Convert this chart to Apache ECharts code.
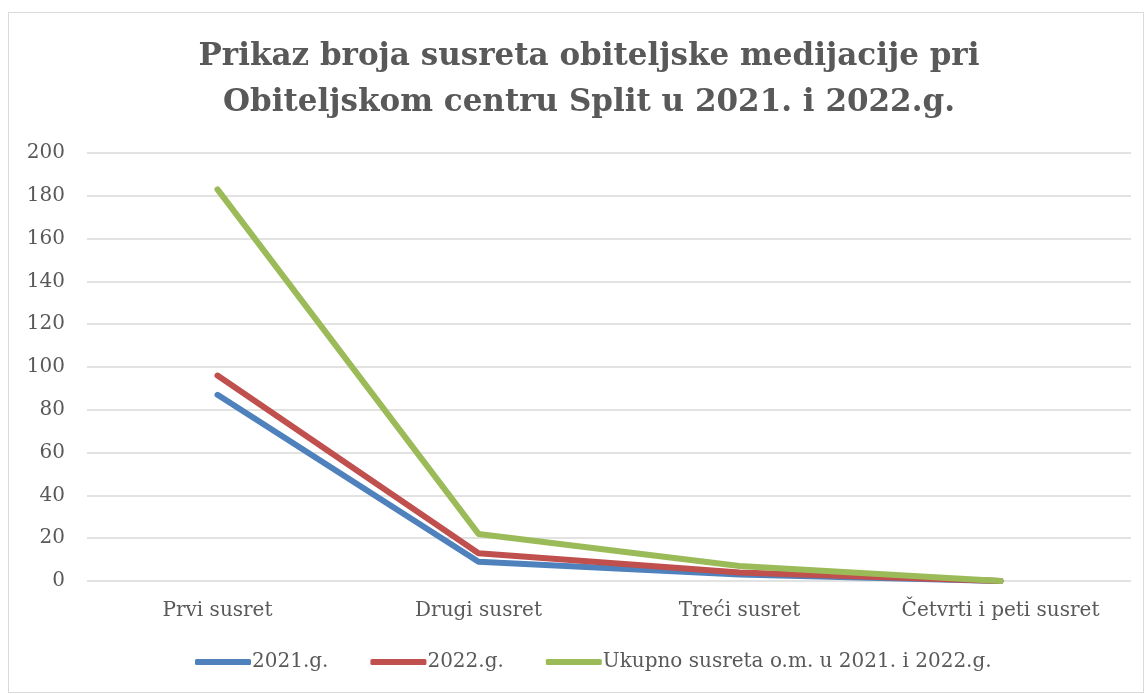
<!DOCTYPE html>
<html>
<head>
    <meta charset="UTF-8">
    <title>Prikaz broja susreta</title>
    <style>
        html, body { margin: 0; padding: 0; background: #fff; }
        #box {
            position: absolute;
            left: 8px; top: 12px;
            width: 1136px; height: 681px;
            border: 1px solid #d9d9d9;
            box-sizing: border-box;
        }
        #chart { width: 1145px; height: 694px; position: absolute; left: 0; top: 0; }
    </style>
    <script src="https://cdn.jsdelivr.net/npm/echarts@6/dist/echarts.min.js"></script>
</head>
<body>
    <div id="box"></div>
    <div id="chart"></div>
    <script>
        // kategorije i vrijednosti
        var categories = ['Prvi susret', 'Drugi susret', 'Treći susret', 'Četvrti i peti susret'];
        var god2021 = [87, 9, 3, 0];
        var god2022 = [96, 13, 4, 0];
        var ukupno = [183, 22, 7, 0];

        var font = '"DejaVu Serif", "Liberation Serif", serif';
        var chart = echarts.init(document.getElementById('chart'));

        function line(name, data, color) {
            return {
                name: name,
                type: 'line',
                data: data,
                symbol: 'none',
                lineStyle: { width: 6, color: color, cap: 'round', join: 'round' },
                itemStyle: { color: color }
            };
        }

        chart.setOption({
            animation: false,
            title: {
                text: 'Prikaz broja susreta obiteljske medijacije pri\nObiteljskom centru Split u 2021. i 2022.g.',
                left: 584,
                top: 29,
                textAlign: 'center',
                textStyle: {
                    fontFamily: font,
                    fontWeight: 'bold',
                    fontSize: 31,
                    lineHeight: 46,
                    color: '#595959'
                }
            },
            legend: {
                bottom: 17,
                left: 190,
                itemWidth: 56,
                itemHeight: 6,
                itemGap: 42,
                icon: 'roundRect',
                textStyle: { fontFamily: font, fontSize: 20, color: '#595959', padding: [0, 0, 0, -4] },
                data: ['2021.g.', '2022.g.', 'Ukupno susreta o.m. u 2021. i 2022.g.']
            },
            grid: { left: 87, right: 14, top: 153, bottom: 113 },
            xAxis: {
                type: 'category',
                data: categories,
                boundaryGap: true,
                axisLine: { show: false },
                axisTick: { show: false },
                axisLabel: { fontFamily: font, fontSize: 20, color: '#595959', margin: 20 }
            },
            yAxis: {
                type: 'value',
                min: 0,
                max: 200,
                interval: 20,
                axisLine: { show: false },
                axisTick: { show: false },
                axisLabel: { fontFamily: font, fontSize: 20, color: '#595959', margin: 22 },
                splitLine: { lineStyle: { color: '#d9d9d9', width: 1.5 } }
            },
            series: [
                line('2021.g.', god2021, '#4F81BD'),
                line('2022.g.', god2022, '#C0504D'),
                line('Ukupno susreta o.m. u 2021. i 2022.g.', ukupno, '#9BBB59')
            ]
        });
    </script>
</body>
</html>
